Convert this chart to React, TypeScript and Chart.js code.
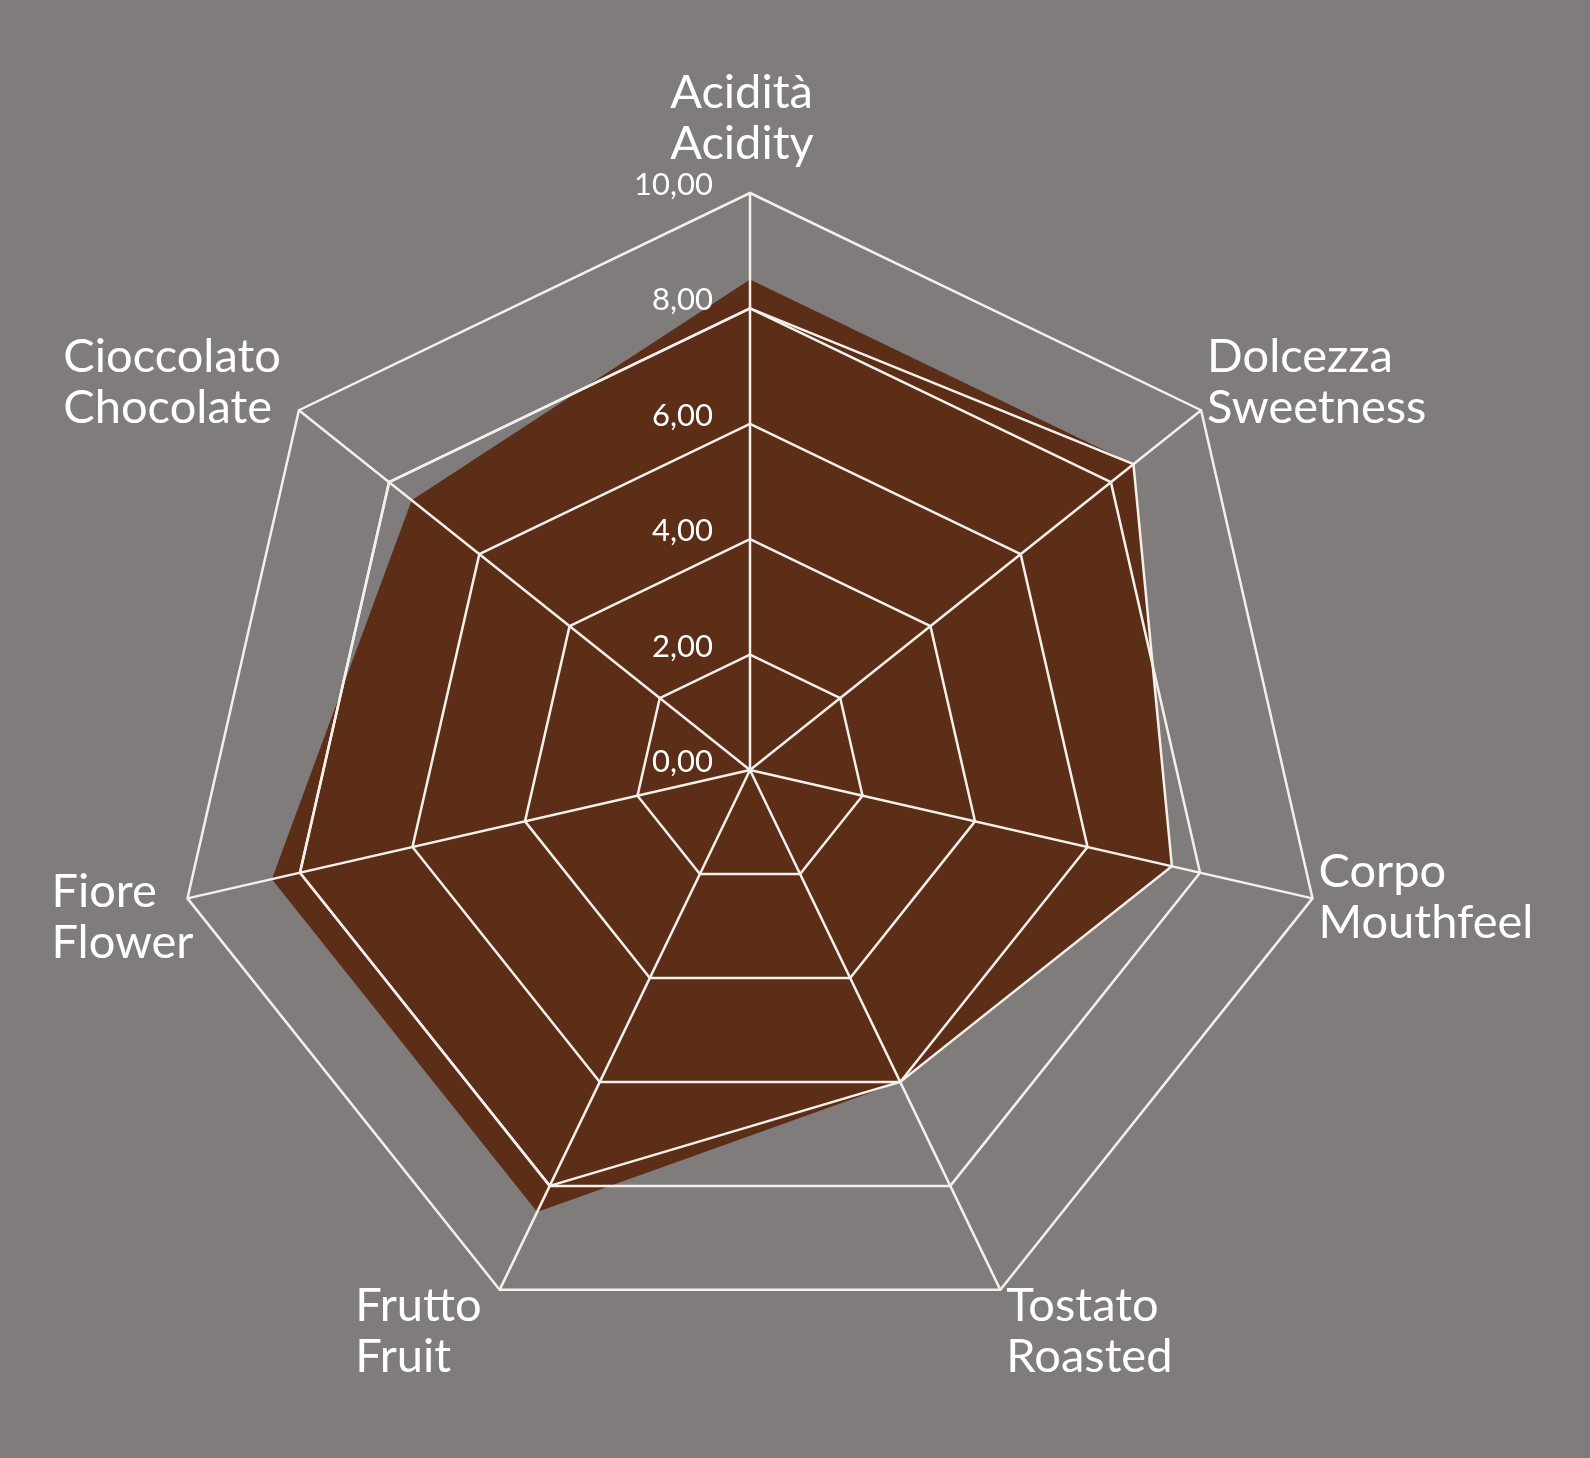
import { useEffect, useRef } from "react";
import Chart from "chart.js/auto";

// axis names, Italian on the first line and English on the second
const labelsIt = ["Acidità", "Dolcezza", "Corpo", "Tostato", "Frutto", "Fiore", "Cioccolato"];
const labelsEn = ["Acidity", "Sweetness", "Mouthfeel", "Roasted", "Fruit", "Flower", "Chocolate"];

// brown filled profile and the white outline drawn over it
const profile = [8.5, 8.5, 7.5, 6, 8.5, 8.5, 7.5];
const outline = [8, 8.5, 7.5, 6, 8, 8, 8];

const scaleMin = 0;
const scaleMax = 10;
const scaleStep = 2;

const BG = "#807c7b";
const BROWN = "#5c2e17";
const LINE = "#f3f0ec";
const TEXT = "#ffffff";
const FONT = "Lato, 'Open Sans', sans-serif";

const fmt = (v: number) => v.toFixed(2).replace(".", ",");

const radarText = {
  id: "radarText",
  afterDraw(chart: any) {
    const scale = chart.scales.r;
    const ctx = chart.ctx;
    ctx.save();
    ctx.fillStyle = TEXT;

    // tick values, to the left of the first spoke
    ctx.font = `31px ${FONT}`;
    ctx.textAlign = "right";
    ctx.textBaseline = "alphabetic";
    scale.ticks.forEach((t: any) => {
      const p = scale.getPointPositionForValue(0, t.value);
      ctx.fillText(fmt(t.value), p.x - 37, p.y + 2);
    });

    // two-line point labels, lines left aligned like the original
    ctx.font = `47px ${FONT}`;
    ctx.textAlign = "left";
    ctx.textBaseline = "middle";
    const n = labelsIt.length;
    for (let i = 0; i < n; i++) {
      const lines = [labelsIt[i], labelsEn[i]];
      const w = Math.max(...lines.map((l) => ctx.measureText(l).width));
      const p = scale.getPointPosition(i, scale.drawingArea);
      const a = (i * 2 * Math.PI) / n;
      const s = Math.sin(a);
      const c = Math.cos(a);
      let left: number;
      let mid: number;
      if (Math.abs(s) < 0.01) {
        left = p.x - w / 2 - 8;
        mid = p.y - 75;
      } else if (s > 0) {
        left = p.x + 6;
        mid = p.y - 46 * c - (s > 0.9 ? 12 : 0);
      } else {
        // the near-horizontal left label sits right against its corner
        left = p.x - w + (s < -0.9 ? 6 : -18);
        mid = p.y - 46 * c + (s < -0.9 ? 8 : 0);
      }
      ctx.fillText(lines[0], left, mid - 25);
      ctx.fillText(lines[1], left, mid + 26);
    }
    ctx.restore();
  },
};

export default function App() {
  const canvasRef = useRef<HTMLCanvasElement | null>(null);

  useEffect(() => {
    if (!canvasRef.current) return;
    const chart = new Chart(canvasRef.current, {
      type: "radar",
      data: {
        labels: labelsIt.map((l, i) => [l, labelsEn[i]]),
        datasets: [
          {
            data: profile,
            backgroundColor: BROWN,
            borderWidth: 0,
            fill: true,
            pointRadius: 0,
            order: 2,
          },
          {
            data: outline,
            borderColor: LINE,
            borderWidth: 2.5,
            fill: false,
            pointRadius: 0,
            order: 1,
          },
        ],
      },
      options: {
        responsive: true,
        maintainAspectRatio: false,
        animation: false,
        layout: { padding: { left: 173, right: 263, top: 193, bottom: 111 } },
        plugins: {
          legend: { display: false },
          tooltip: { enabled: false },
        },
        elements: { line: { tension: 0 } },
        scales: {
          r: {
            min: scaleMin,
            max: scaleMax,
            ticks: { stepSize: scaleStep, display: false, z: 1 },
            grid: { color: LINE, lineWidth: 2.5, z: 1 },
            angleLines: { color: LINE, lineWidth: 2.5 },
            pointLabels: { display: false },
          },
        },
      },
      plugins: [radarText],
    });
    return () => chart.destroy();
  }, []);

  return (
    <div
      style={{
        position: "absolute",
        left: 0,
        top: 0,
        width: 1590,
        height: 1458,
        background: BG,
      }}
    >
      <canvas ref={canvasRef} />
    </div>
  );
}
